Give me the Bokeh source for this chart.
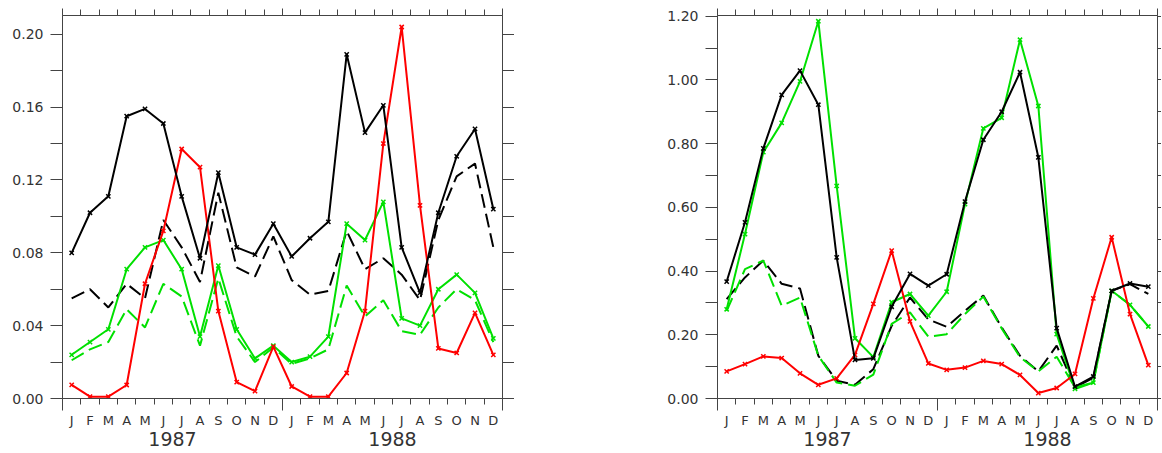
from bokeh.plotting import figure
from bokeh.layouts import row
from bokeh.models import Range1d, LinearAxis, FixedTicker, NumeralTickFormatter, CustomLabelingPolicy
from bokeh.embed import file_html
from bokeh.resources import INLINE

MONTHS = ["J", "F", "M", "A", "M", "J", "J", "A", "S", "O", "N", "D"]
YEARS = ["1987", "1988"]

# ---- left panel series (Jan 1987 .. Dec 1988) ----
left_black = [0.080, 0.102, 0.111, 0.155, 0.159, 0.151, 0.111, 0.077, 0.124, 0.083, 0.079, 0.096,
              0.078, 0.088, 0.097, 0.189, 0.146, 0.161, 0.083, 0.058, 0.102, 0.133, 0.148, 0.104]
left_black_dash = [0.055, 0.060, 0.050, 0.063, 0.055, 0.098, 0.083, 0.064, 0.113, 0.072, 0.067, 0.089,
                   0.065, 0.057, 0.059, 0.092, 0.071, 0.077, 0.068, 0.054, 0.098, 0.122, 0.129, 0.083]
left_green = [0.024, 0.031, 0.038, 0.071, 0.083, 0.087, 0.071, 0.034, 0.073, 0.038, 0.022, 0.029,
              0.020, 0.023, 0.034, 0.096, 0.087, 0.108, 0.044, 0.040, 0.060, 0.068, 0.058, 0.033]
left_green_dash = [0.021, 0.027, 0.031, 0.049, 0.039, 0.063, 0.056, 0.029, 0.066, 0.034, 0.020, 0.028,
                   0.019, 0.022, 0.027, 0.062, 0.045, 0.054, 0.037, 0.035, 0.050, 0.060, 0.054, 0.031]
left_red = [0.0075, 0.001, 0.001, 0.0074, 0.063, 0.092, 0.137, 0.127, 0.048, 0.009, 0.004, 0.0285,
            0.0066, 0.001, 0.001, 0.014, 0.048, 0.140, 0.204, 0.106, 0.0275, 0.025, 0.047, 0.024]

# ---- right panel series ----
right_black = [0.367, 0.553, 0.785, 0.953, 1.029, 0.922, 0.443, 0.121, 0.126, 0.288, 0.391, 0.354,
               0.390, 0.618, 0.812, 0.900, 1.024, 0.757, 0.221, 0.037, 0.069, 0.338, 0.361, 0.351]
right_black_dash = [0.312, 0.380, 0.433, 0.360, 0.345, 0.134, 0.056, 0.043, 0.092, 0.228, 0.317, 0.248,
                    0.225, 0.275, 0.323, 0.223, 0.134, 0.085, 0.166, 0.035, 0.065, 0.338, 0.359, 0.328]
right_green = [0.280, 0.516, 0.773, 0.865, 0.995, 1.184, 0.667, 0.189, 0.130, 0.302, 0.328, 0.260,
               0.335, 0.610, 0.848, 0.881, 1.126, 0.918, 0.202, 0.030, 0.050, 0.338, 0.294, 0.226]
right_green_dash = [0.275, 0.406, 0.433, 0.291, 0.317, 0.134, 0.050, 0.040, 0.075, 0.234, 0.270, 0.194,
                    0.202, 0.265, 0.320, 0.220, 0.130, 0.085, 0.131, 0.035, 0.050, 0.338, 0.294, 0.226]
right_red = [0.085, 0.108, 0.132, 0.127, 0.079, 0.043, 0.063, 0.137, 0.297, 0.464, 0.242, 0.110,
             0.090, 0.097, 0.118, 0.108, 0.074, 0.017, 0.033, 0.077, 0.314, 0.506, 0.265, 0.105]

left_ticks = [0.00, 0.04, 0.08, 0.12, 0.16, 0.20]
left_minor = [0.02, 0.06, 0.10, 0.14, 0.18]
right_ticks = [0.00, 0.20, 0.40, 0.60, 0.80, 1.00, 1.20]
right_minor = [0.10, 0.30, 0.50, 0.70, 0.90, 1.10]

N = 2 * len(MONTHS)
xs = [i + 0.5 for i in range(N)]
month_labels = {x: MONTHS[i % 12] for i, x in enumerate(xs)}
year_pos = [6, 18]
year_labels = {p: y for p, y in zip(year_pos, YEARS)}

AX = "#444444"
TXT = "#333333"
GREEN = "#00e000"
RED = "#ff0000"
FONT = "DejaVu Sans"


def no_labels(ax):
    ax.major_label_text_font_size = "0px"
    ax.major_label_standoff = 0
    ax.major_label_policy = CustomLabelingPolicy(
        code="for (const i of Array.from(indices)) { indices.unset(i) }\nreturn indices")


def frame_axis(ticker, tick_out, major_out=None):
    a = LinearAxis(ticker=ticker)
    a.axis_line_color = AX
    a.major_tick_line_color = AX
    a.minor_tick_line_color = AX
    a.major_tick_in = 0
    a.minor_tick_in = 0
    a.major_tick_out = major_out if major_out is not None else tick_out
    a.minor_tick_out = tick_out
    no_labels(a)
    return a


def make(ymax, yt, ym, series, left_border, right_border, right_tick):
    p = figure(frame_width=440, frame_height=383,
               x_range=Range1d(0, N), y_range=Range1d(0, ymax),
               output_backend="svg", toolbar_location=None,
               x_axis_location=None, y_axis_location=None,
               min_border_left=left_border, min_border_right=right_border,
               min_border_top=15, min_border_bottom=0)
    p.outline_line_color = None
    p.background_fill_color = "white"
    p.border_fill_color = "white"
    p.xgrid.visible = False
    p.ygrid.visible = False

    # left value axis
    la = LinearAxis(ticker=FixedTicker(ticks=yt, minor_ticks=ym),
                    formatter=NumeralTickFormatter(format="0.00"))
    la.axis_line_color = AX
    la.major_tick_line_color = AX
    la.minor_tick_line_color = AX
    la.major_tick_in = 0
    la.minor_tick_in = 0
    la.major_tick_out = 12
    la.minor_tick_out = 12
    la.major_label_standoff = 7
    la.major_label_text_font = FONT
    la.major_label_text_font_size = "14px"
    la.major_label_text_color = TXT
    p.add_layout(la, "left")

    # right frame axis
    p.add_layout(frame_axis(FixedTicker(ticks=yt, minor_ticks=ym), right_tick), "right")

    # top frame axis
    p.add_layout(frame_axis(FixedTicker(ticks=[0, 12, 24], minor_ticks=list(range(N + 1))), 6, 7), "above")

    # bottom tick axis
    p.add_layout(frame_axis(FixedTicker(ticks=[0, 12, 24], minor_ticks=list(range(N + 1))), 6, 12), "below")

    # month labels axis
    ma = LinearAxis(ticker=FixedTicker(ticks=xs, minor_ticks=[]),
                    major_label_overrides=month_labels)
    ma.axis_line_color = None
    ma.major_tick_line_color = None
    ma.major_tick_in = 0
    ma.major_tick_out = 0
    ma.minor_tick_out = 0
    ma.major_label_standoff = 2
    ma.major_label_text_font = FONT
    ma.major_label_text_font_size = "13px"
    ma.major_label_text_color = TXT
    p.add_layout(ma, "below")

    # year labels axis
    ya = LinearAxis(ticker=FixedTicker(ticks=year_pos, minor_ticks=[]),
                    major_label_overrides=year_labels)
    ya.axis_line_color = None
    ya.major_tick_line_color = None
    ya.major_tick_in = 0
    ya.major_tick_out = 0
    ya.minor_tick_out = 0
    ya.major_label_standoff = 1
    ya.major_label_text_font = FONT
    ya.major_label_text_font_size = "19px"
    ya.major_label_text_color = TXT
    p.add_layout(ya, "below")

    black, black_dash, green, green_dash, red = series
    p.line(xs, black_dash, line_color="black", line_width=2, line_dash="14 6")
    p.line(xs, green_dash, line_color=GREEN, line_width=2, line_dash="14 6")
    for ys, col in ((green, GREEN), (red, RED), (black, "black")):
        p.line(xs, ys, line_color=col, line_width=2)
        p.scatter(xs, ys, marker="x", size=6, line_color=col, line_width=1.5)
    return p


p1 = make(0.2103, left_ticks, left_minor,
          (left_black, left_black_dash, left_green, left_green_dash, left_red),
          62, 12, 12)
p2 = make(1.202, right_ticks, right_minor,
          (right_black, right_black_dash, right_green, right_green_dash, right_red),
          203, 4, 4)

layout = row(p1, p2)
open("out.html", "w").write(file_html(layout, INLINE))
